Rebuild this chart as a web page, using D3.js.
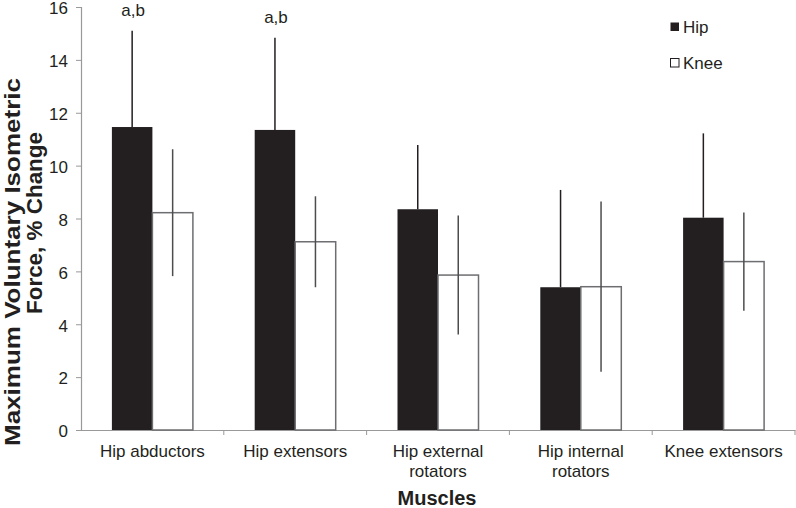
<!DOCTYPE html>
<html><head><meta charset="utf-8">
<script src="https://cdn.jsdelivr.net/npm/d3@7"></script>
<style>
body{margin:0;background:#fff;}
svg{display:block;font-family:"Liberation Sans",Arial,sans-serif;}
</style></head>
<body><svg id="c" width="796" height="508"></svg>
<script>
const categories = ["Hip abductors","Hip extensors","Hip external rotators","Hip internal rotators","Knee extensors"];
const categoryLines = [["Hip abductors"],["Hip extensors"],["Hip external","rotators"],["Hip internal","rotators"],["Knee extensors"]];
const seriesNames = ["Hip","Knee"];
const hipValues = [11.46, 11.35, 8.35, 5.40, 8.03];
const hipErrors = [3.64, 3.49, 2.43, 3.68, 3.19];
const kneeValues = [8.22, 7.12, 5.86, 5.42, 6.37];
const kneeErrors = [2.40, 1.72, 2.25, 3.22, 1.86];
const annotations = ["a,b","a,b","","",""];
const yTicks = [0,2,4,6,8,10,12,14,16];

const svg = d3.select("#c");
const x = d3.scaleBand().domain(categories).range([81,795]);
const y = d3.scaleLinear().domain([0,16]).range([430,7]);
const bw = x.bandwidth();
const sub = d3.scaleBand().domain(seriesNames).range([bw/2-40.5, bw/2+40.5]);

// axes
const yAxis = svg.append("g").attr("transform","translate(81,0)")
  .call(d3.axisLeft(y).tickValues(yTicks).tickSize(5).tickPadding(8).tickFormat(d3.format("d")));
yAxis.attr("font-family","Liberation Sans, Arial, sans-serif");
yAxis.select(".domain").attr("stroke","#999").attr("stroke-width",1.2);
yAxis.selectAll(".tick line").attr("stroke","#999");
yAxis.selectAll(".tick text").attr("font-size",17).attr("fill","#231f20").attr("dy","0.4em");

const xAxis = svg.append("g").attr("transform","translate(0,430)")
  .call(d3.axisBottom(x).tickSize(0).tickFormat(""));
xAxis.select(".domain").attr("stroke","#999").attr("stroke-width",1.2);
// category boundary ticks
const bounds = categories.map(c => x(c)).concat([x(categories[categories.length-1])+bw]);
svg.append("g").selectAll("line").data(bounds.slice(1)).join("line")
  .attr("x1",d=>d).attr("x2",d=>d).attr("y1",430).attr("y2",435)
  .attr("stroke","#999").attr("stroke-width",1);

// category labels
const lab = svg.append("g").selectAll("text").data(categories).join("text")
  .attr("text-anchor","middle").attr("font-size",17).attr("fill","#231f20")
  .attr("x",c=>x(c)+bw/2).attr("y",457);
lab.each(function(c,i){
  const t = d3.select(this);
  categoryLines[i].forEach((l,j)=>{
    t.append("tspan").attr("x",x(c)+bw/2).attr("dy", j===0?0:20).text(l);
  });
});

// bars
const g = svg.append("g");
g.selectAll("rect.hip").data(categories).join("rect").attr("class","hip")
  .attr("x",(c)=>x(c)+sub("Hip")).attr("width",sub.bandwidth())
  .attr("y",(c,i)=>y(hipValues[i])).attr("height",(c,i)=>y(0)-y(hipValues[i]))
  .attr("fill","#231f20");
g.selectAll("rect.knee").data(categories).join("rect").attr("class","knee")
  .attr("x",(c)=>x(c)+sub("Knee")).attr("width",sub.bandwidth())
  .attr("y",(c,i)=>y(kneeValues[i])).attr("height",(c,i)=>y(0)-y(kneeValues[i]))
  .attr("fill","#fff").attr("stroke","#6d6e71").attr("stroke-width",1.5);

// error bars
g.selectAll("line.he").data(categories).join("line").attr("class","he")
  .attr("x1",c=>x(c)+sub("Hip")+sub.bandwidth()/2).attr("x2",c=>x(c)+sub("Hip")+sub.bandwidth()/2)
  .attr("y1",(c,i)=>y(hipValues[i])).attr("y2",(c,i)=>y(hipValues[i]+hipErrors[i]))
  .attr("stroke","#231f20").attr("stroke-width",1.5);
g.selectAll("line.ke").data(categories).join("line").attr("class","ke")
  .attr("x1",c=>x(c)+sub("Knee")+sub.bandwidth()/2).attr("x2",c=>x(c)+sub("Knee")+sub.bandwidth()/2)
  .attr("y1",(c,i)=>y(kneeValues[i]-kneeErrors[i])).attr("y2",(c,i)=>y(kneeValues[i]+kneeErrors[i]))
  .attr("stroke","#4d4d4f").attr("stroke-width",1.5);

// annotations
g.selectAll("text.ann").data(categories).join("text").attr("class","ann")
  .attr("x",c=>x(c)+sub("Hip")+sub.bandwidth()/2+1)
  .attr("y",(c,i)=>y(hipValues[i]+hipErrors[i])-15)
  .attr("text-anchor","middle").attr("font-size",17).attr("fill","#231f20")
  .text((c,i)=>annotations[i]);

// legend
const leg = svg.append("g");
leg.append("rect").attr("x",670.5).attr("y",22.5).attr("width",8.5).attr("height",8.5).attr("fill","#231f20");
leg.append("rect").attr("x",670.5).attr("y",58.5).attr("width",8.5).attr("height",8.5).attr("fill","#fff").attr("stroke","#231f20").attr("stroke-width",1);
leg.append("text").attr("x",683).attr("y",32.5).attr("font-size",17).attr("fill","#231f20").text(seriesNames[0]);
leg.append("text").attr("x",683).attr("y",68.5).attr("font-size",17).attr("fill","#231f20").text(seriesNames[1]);

// axis titles
svg.append("text").attr("x",437).attr("y",505).attr("text-anchor","middle")
  .attr("font-size",20).attr("font-weight","bold").attr("fill","#231f20").text("Muscles");
svg.append("text").attr("transform","translate(20,262) rotate(-90)").attr("text-anchor","middle")
  .attr("font-size",22).attr("font-weight","bold").attr("fill","#231f20")
  .attr("textLength",368).attr("lengthAdjust","spacingAndGlyphs")
  .text("Maximum Voluntary Isometric");
svg.append("text").attr("transform","translate(42,223) rotate(-90)").attr("text-anchor","middle")
  .attr("font-size",22).attr("font-weight","bold").attr("fill","#231f20")
  .attr("textLength",182).attr("lengthAdjust","spacingAndGlyphs")
  .text("Force, % Change");
</script></body></html>
